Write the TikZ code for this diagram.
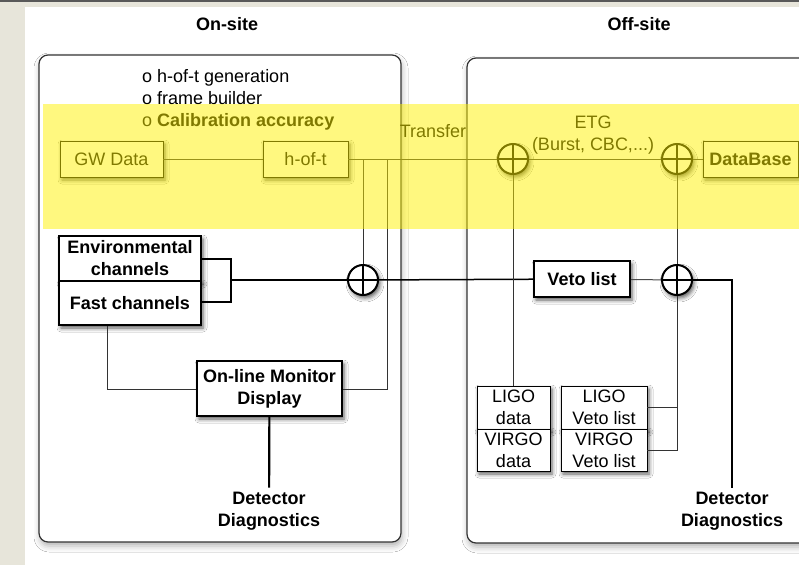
\documentclass[tikz,border=0pt]{standalone}
\usepackage{fontspec}
\setmainfont{Liberation Sans}
\usetikzlibrary{shadows.blur}
\definecolor{bgbeige}{HTML}{E7E5DA}
\definecolor{lineg}{HTML}{333333}
\begin{document}
\begin{tikzpicture}[x=1pt,y=-1pt,
  txt/.style={font=\fontsize{18}{22}\selectfont, inner sep=0pt},
  btxt/.style={font=\fontsize{18}{22}\selectfont\bfseries, inner sep=0pt},
  boxshadow/.style={blur shadow={shadow xshift=2pt, shadow yshift=-3pt, shadow blur radius=4pt, shadow opacity=65}},
  panel/.style={draw=black!80, line width=1.2pt, fill=white, rounded corners=9pt,
     blur shadow={shadow xshift=1pt, shadow yshift=-4pt, shadow blur radius=6pt, shadow opacity=30}},
  box/.style={txt, draw=black, fill=white, line width=0.9pt, boxshadow},
  boldbox/.style={btxt, draw=black, fill=white, line width=1.7pt, boxshadow},
  smallbox/.style={txt, draw=black, fill=white, line width=0.8pt, align=center, boxshadow},
  oplus/.style={circle, draw=black, line width=2pt, fill=white, minimum size=30pt, inner sep=0pt, boxshadow,
     path picture={\draw[line width=1.6pt] (path picture bounding box.north) -- (path picture bounding box.south)
       (path picture bounding box.west) -- (path picture bounding box.east);}},
  thin/.style={draw=lineg, line width=1pt},
  mid/.style={draw=black, line width=1.5pt},
  heavy/.style={draw=black, line width=2.2pt}
]
\useasboundingbox (0,0) rectangle (799,565);
% page background
\fill[bgbeige] (0,0) rectangle (799,565);
\fill[white] (25,6.5) rectangle (799,565);
\fill[black!65] (0,0) rectangle (799,1.5);

% panels
\node[panel, minimum width=362pt, minimum height=487pt] (onsite) at (220,298.5) {};
\node[panel, minimum width=360pt, minimum height=485pt] (offsite) at (647,300.5) {};

% titles
\node[btxt] (t1) at (227,24) {On-site};
\node[btxt] (t2) at (639,24) {Off-site};

% bullets
\node[txt, anchor=base west] (b1) at (142,82) {o h-of-t generation};
\node[txt, anchor=base west] (b2) at (142,104) {o frame builder};
\node[txt, anchor=base west] (b3) at (142,126) {o \textbf{Calibration accuracy}};

% top row
\node[box, minimum width=103pt, minimum height=36pt] (gw) at (111.5,159) {GW Data};
\node[box, minimum width=85pt, minimum height=36pt] (hoft) at (305.5,159) {h-of-t};
\node[boldbox, line width=0.9pt, minimum width=95pt, minimum height=36pt] (db) at (750.5,159) {DataBase};
\node[oplus] (op1) at (513,159) {};
\node[oplus] (op2) at (677,159) {};
\node[txt] (transfer) at (433,131) {Transfer};
\node[txt, align=center] (etg) at (593,135.5) {ETG\\(Burst, CBC,...)};

% lower left
\node[boldbox, minimum width=142pt, minimum height=45pt, align=center] (env) at (130,258.5) {Environmental\\channels};
\node[boldbox, minimum width=142pt, minimum height=44pt] (fast) at (130,303) {Fast channels};
\node[oplus] (op3) at (363,280) {};
\node[boldbox, minimum width=145pt, minimum height=55pt, align=center] (mon) at (269.5,388.5) {On-line Monitor\\Display};
\node[btxt, align=center, inner sep=4pt] (ddL) at (269,511) {Detector\\Diagnostics};

% lower right
\node[boldbox, minimum width=96pt, minimum height=36pt] (veto) at (582,279) {Veto list};
\node[oplus] (op4) at (677,280) {};
\node[smallbox, minimum width=73pt, minimum height=43pt] (ligod) at (513.5,407.5) {LIGO\\data};
\node[smallbox, minimum width=73pt, minimum height=42pt] (virgod) at (513.5,450) {VIRGO\\data};
\node[smallbox, minimum width=86pt, minimum height=43pt] (ligov) at (604,407.5) {LIGO\\Veto list};
\node[smallbox, minimum width=86pt, minimum height=42pt] (virgov) at (604,450) {VIRGO\\Veto list};
\node[btxt, align=center, inner sep=4pt] (ddR) at (732,511) {Detector\\Diagnostics};

% junction coordinates
\coordinate (j1) at (363,159);
\coordinate (j2) at (387,159);
\coordinate (j3) at (387,389.5);
\coordinate (j4) at (107,389.5);
\coordinate (k1) at (231,259);
\coordinate (k2) at (231,302);
\coordinate (k3) at (231,280);

% connectors
\draw[thin] (gw) -- (hoft);
\draw[thin] (hoft) -- (op1);
\draw[thin] (op1) -- (op2);
\draw[thin] (op2) -- (db);
\draw[thin] (j1) -- (op3);
\draw[thin] (j2) -- (j3) -- (mon.east |- j3);
\draw[thin] (fast.south -| j4) -- (j4) -- (mon.west |- j4);
\draw[heavy] (mon) -- (ddL);
\draw[mid] (env.east |- k1) -- (k1) -- (k2) -- (fast.east |- k2);
\draw[mid] (k3) -- (op3);
\draw[mid] (op3) -- (veto);
\draw[thin, draw=black!70] (veto) -- (op4);
\draw[heavy] (op4.east) -- (ddR.north |- op4.east) -- (ddR.north);
\draw[thin] (op1) -- (op1 |- ligod.north);
\draw[thin] (op2) -- (op4);
\draw[thin] (op4) -- (op4 |- virgov.east) -- (virgov.east);
\draw[thin] (ligov.east) -- (ligov.east -| op4);

% translucent highlight band
\fill[yellow, opacity=0.5] (43,104) rectangle (800,229);
\end{tikzpicture}
\end{document}
